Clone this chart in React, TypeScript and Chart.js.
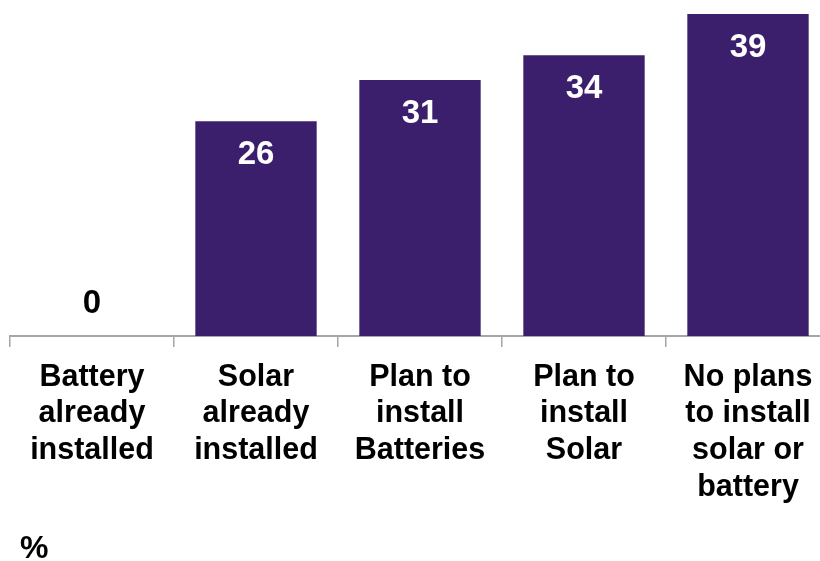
import React, { useEffect, useRef } from "react";
import { Chart, registerables } from "chart.js";

Chart.register(...registerables);

const categories: string[][] = [
  ["Battery", "already", "installed"],
  ["Solar", "already", "installed"],
  ["Plan to", "install", "Batteries"],
  ["Plan to", "install", "Solar"],
  ["No plans", "to install", "solar or", "battery"],
];
const values: number[] = [0, 26, 31, 34, 39];
const unitLabel = "%";

const BAR_COLOR = "#3C1F6C";
const FONT = "Arial, 'Liberation Sans', Helvetica, sans-serif";

const labelPlugin = {
  id: "valueLabels",
  afterDatasetsDraw(chart: any) {
    const { ctx } = chart;
    const meta = chart.getDatasetMeta(0);
    ctx.save();
    ctx.font = `bold 33px ${FONT}`;
    ctx.textAlign = "center";
    ctx.textBaseline = "middle";
    meta.data.forEach((bar: any, i: number) => {
      const v = values[i];
      if (v === 0) {
        ctx.fillStyle = "#000000";
        ctx.fillText(String(v), bar.x, bar.base - 32);
      } else {
        ctx.fillStyle = "#FFFFFF";
        ctx.fillText(String(v), bar.x, bar.y + 34);
      }
    });
    ctx.fillStyle = "#000000";
    ctx.textAlign = "left";
    ctx.textBaseline = "alphabetic";
    ctx.font = `bold 32px ${FONT}`;
    ctx.fillText(unitLabel, 20, 558);
    ctx.restore();
  },
};

export default function App() {
  const ref = useRef<HTMLCanvasElement | null>(null);
  useEffect(() => {
    document.body.style.margin = "0";
    document.body.style.overflow = "hidden";
    const canvas = ref.current;
    if (!canvas) return;
    const chart = new Chart(canvas, {
      type: "bar",
      data: {
        labels: categories,
        datasets: [
          {
            data: values,
            backgroundColor: BAR_COLOR,
            borderWidth: 0,
            barPercentage: 0.74,
            categoryPercentage: 1,
          },
        ],
      },
      options: {
        responsive: false,
        animation: false,
        maintainAspectRatio: false,
        layout: { padding: { left: 10, right: 0, top: 14, bottom: 0 } },
        plugins: {
          legend: { display: false },
          tooltip: { enabled: false },
          title: { display: false },
        },
        scales: {
          x: {
            grid: {
              display: true,
              drawOnChartArea: false,
              drawTicks: true,
              tickLength: 11,
              color: "#A6A6A6",
              lineWidth: 1.5,
              offset: true,
            },
            border: { display: true, color: "#A6A6A6", width: 2 },
            ticks: {
              color: "#000000",
              font: { family: FONT, size: 30.5, weight: "bold", lineHeight: 1.2 },
              padding: 12,
              maxRotation: 0,
              autoSkip: false,
            },
            afterFit: (scale: any) => {
              scale.height = 561 - 336;
            },
          },
          y: {
            display: false,
            min: 0,
            max: 39,
          },
        },
      },
      plugins: [labelPlugin],
    });
    return () => chart.destroy();
  }, []);
  return (
    <div style={{ position: "absolute", left: 0, top: 0, width: 830, height: 561 }}>
      <canvas ref={ref} width={830} height={561} style={{ display: "block" }} />
    </div>
  );
}
